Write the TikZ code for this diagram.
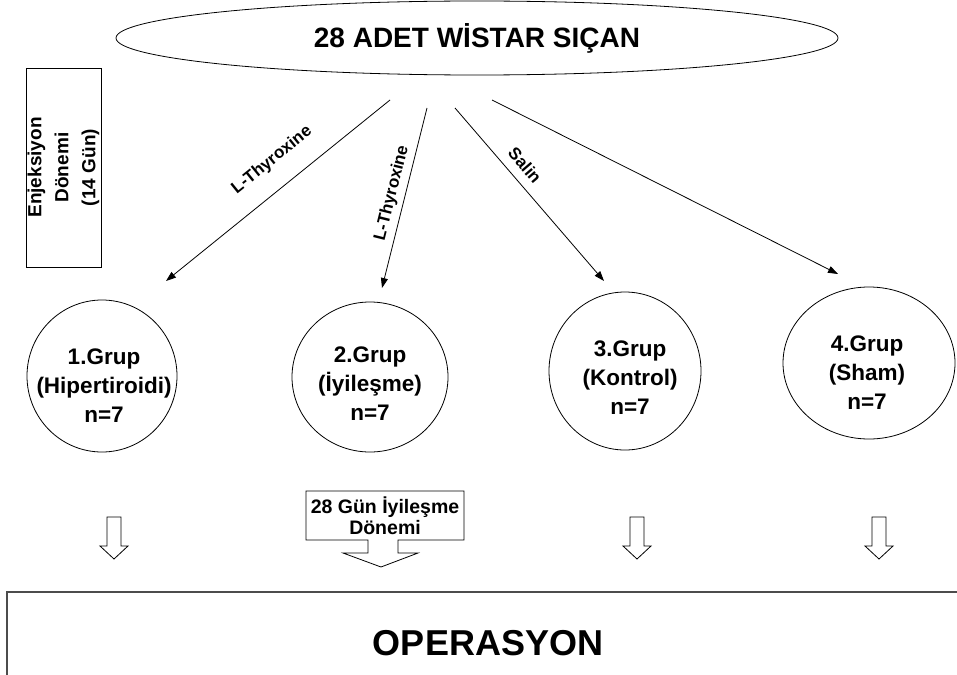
\documentclass[tikz,border=0pt]{standalone}
\usepackage{fontspec}
\setmainfont{Liberation Sans}
\usetikzlibrary{arrows.meta,shapes.geometric}

\begin{document}
\begin{tikzpicture}[x=1pt,y=-1pt,line width=0.8pt,
  grup/.style={draw,ellipse,inner sep=0pt},
  grupyazi/.style={align=center,font=\fontsize{22.5}{29}\selectfont\bfseries},
  ok/.style={-{Triangle[length=10pt,width=7pt]}},
  etiket/.style={font=\fontsize{17}{18}\selectfont\bfseries,sloped,above},
  bosok/.style={draw,fill=white}]
\useasboundingbox (0,0) rectangle (957,674);
% Drawing top ellipse and side box
\node[draw,ellipse,inner sep=0pt,minimum width=722pt,minimum height=74pt,
  font=\fontsize{28}{32}\selectfont\bfseries] (sican) at (477,38) {28 ADET WİSTAR SIÇAN};
\node[draw,rotate=90,inner sep=0pt,minimum width=199pt,minimum height=75pt,align=center,
  font=\fontsize{19}{27}\selectfont\bfseries] (enj) at (63.5,167.5) {Enjeksiyon\\Dönemi\\(14 Gün)};
% Drawing groups
\node[grup,minimum width=150pt,minimum height=152pt] (g1) at (102,376) {};
\node[grup,minimum width=156pt,minimum height=150pt] (g2) at (370,377) {};
\node[grup,minimum width=152pt,minimum height=158pt] (g3) at (625,371) {};
\node[grup,minimum width=172pt,minimum height=152pt] (g4) at (869,363) {};
\node[grupyazi] (g1y) at (104,386) {1.Grup\\(Hipertiroidi)\\n=7};
\node[grupyazi] (g2y) at (370,384) {2.Grup\\(İyileşme)\\n=7};
\node[grupyazi] (g3y) at (630,378) {3.Grup\\(Kontrol)\\n=7};
\node[grupyazi] (g4y) at (867,373) {4.Grup\\(Sham)\\n=7};
% Drawing arrows from the top
\coordinate (s1) at (390,100); \coordinate (t1) at (166,281);
\coordinate (s2) at (427,108); \coordinate (t2) at (382,288);
\coordinate (s3) at (455,108); \coordinate (t3) at (604,281);
\coordinate (s4) at (492,100); \coordinate (t4) at (838,274);
\draw[ok] (s1) -- node[etiket,pos=0.45,inner sep=19pt] (e1) {L-Thyroxine} (t1);
\draw[ok] (s2) -- node[etiket,pos=0.49,inner sep=5pt] (e2) {L-Thyroxine} (t2);
\draw[ok] (s3) -- node[etiket,pos=0.39,inner sep=9pt] (e3) {Salin} (t3);
\draw[ok] (s4) -- (t4);
% Drawing hollow arrows
\foreach \x in {114,637,879}
  \draw[bosok] (\x-7,517) -- (\x+7,517) -- (\x+7,546) -- (\x+14,546) -- (\x,559)
    -- (\x-14,546) -- (\x-7,546) -- cycle;
\draw[bosok] (306,491) -- (464,491) -- (464,540) -- (398,540) -- (398,553) -- (418,553)
  -- (381,567) -- (343,553) -- (368,553) -- (368,540) -- (306,540) -- cycle;
\node[align=center,font=\fontsize{19.5}{21}\selectfont\bfseries] (iyi) at (385,516) {28 Gün İyileşme\\Dönemi};
% Drawing operation box
\node[draw=black!70,line width=1.5pt,minimum width=962pt,minimum height=102pt,inner sep=0pt,
  font=\fontsize{36}{40}\selectfont\bfseries] (op) at (488,643) {OPERASYON};
\end{tikzpicture}
\end{document}
